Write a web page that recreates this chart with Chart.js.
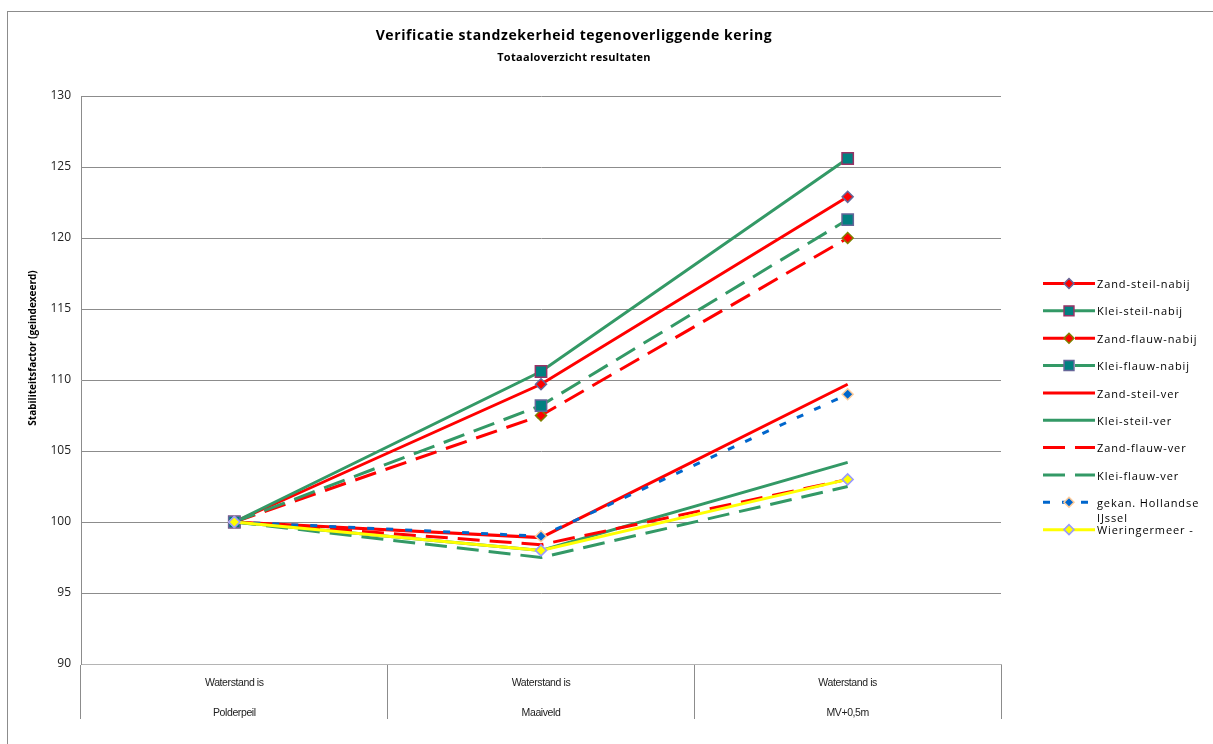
<!DOCTYPE html>
<html>
<head>
<meta charset="utf-8">
<title>Verificatie standzekerheid tegenoverliggende kering</title>
<script src="https://cdn.jsdelivr.net/npm/chart.js@4.4.1/dist/chart.umd.min.js"></script>
<style>
  html, body { margin: 0; padding: 0; background: #ffffff; overflow: hidden; }
  canvas { display: block; }
</style>
</head>
<body>
<canvas id="chart" width="1213" height="744"></canvas>
<script>
// ---- Texts ----
const chartTitle = 'Verificatie standzekerheid tegenoverliggende kering';
const chartSubtitle = 'Totaaloverzicht resultaten';
const yAxisTitle = 'Stabiliteitsfactor (geindexeerd)';

// ---- Categories (two-line labels) ----
const categories = [
  ['Waterstand is', 'Polderpeil'],
  ['Waterstand is', 'Maaiveld'],
  ['Waterstand is', 'MV+0,5m']
];

// ---- Value axis ----
const yMin = 90;
const yMax = 130;
const yStep = 5;

// ---- Series values (indexed stability factor) ----
const seriesNames = [
  'Zand-steil-nabij', 'Klei-steil-nabij', 'Zand-flauw-nabij', 'Klei-flauw-nabij',
  'Zand-steil-ver', 'Klei-steil-ver', 'Zand-flauw-ver', 'Klei-flauw-ver',
  'gekan. Hollandse IJssel', 'Wieringermeer -'
];
const zandSteilNabij  = [100, 109.7, 122.9];
const kleiSteilNabij  = [100, 110.6, 125.6];
const zandFlauwNabij  = [100, 107.5, 120.0];
const kleiFlauwNabij  = [100, 108.2, 121.3];
const zandSteilVer    = [100, 98.9, 109.7];
const kleiSteilVer    = [100, 98.0, 104.2];
const zandFlauwVer    = [100, 98.4, 103.0];
const kleiFlauwVer    = [100, 97.5, 102.5];
const hollandseIJssel = [100, 99.0, 109.0];
const wieringermeer   = [100, 98.0, 103.0];

const seriesValues = [
  zandSteilNabij, kleiSteilNabij, zandFlauwNabij, kleiFlauwNabij,
  zandSteilVer, kleiSteilVer, zandFlauwVer, kleiFlauwVer,
  hollandseIJssel, wieringermeer
];

// ---- Styling ----
const RED = '#ff0000', GREEN = '#339966', BLUE = '#0066cc', YELLOW = '#ffff00', TEAL = '#008080';
const SOLID = [], LONG_DASH = [22, 10], SHORT_DASH = [7, 12];
const GRID = '#8c8c8c';

const seriesStyles = [
  { color: RED,    dash: SOLID,      marker: { style: 'rectRot', radius: 5.5, fill: RED,    border: '#666699' } },
  { color: GREEN,  dash: SOLID,      marker: { style: 'rect',    radius: 8,   fill: TEAL,   border: '#993366' } },
  { color: RED,    dash: LONG_DASH,  marker: { style: 'rectRot', radius: 5.5, fill: RED,    border: '#808000' } },
  { color: GREEN,  dash: LONG_DASH,  marker: { style: 'rect',    radius: 8,   fill: TEAL,   border: '#666699' } },
  { color: RED,    dash: SOLID,      marker: null },
  { color: GREEN,  dash: SOLID,      marker: null },
  { color: RED,    dash: LONG_DASH,  marker: null },
  { color: GREEN,  dash: LONG_DASH,  marker: null },
  { color: BLUE,   dash: SHORT_DASH, marker: { style: 'rectRot', radius: 5.5, fill: BLUE,   border: '#ffcc99' } },
  { color: YELLOW, dash: SOLID,      marker: { style: 'rectRot', radius: 5.5, fill: YELLOW, border: '#9999ff' } }
];

const LINE_WIDTH = 3;
const FONT = '"Open Sans", "Liberation Sans", sans-serif';

const datasets = seriesNames.map((name, i) => {
  const s = seriesStyles[i];
  const m = s.marker;
  return {
    label: name,
    data: seriesValues[i],
    borderColor: s.color,
    backgroundColor: s.color,
    borderWidth: LINE_WIDTH,
    borderDash: s.dash,
    borderCapStyle: 'butt',
    borderJoinStyle: 'miter',
    tension: 0,
    fill: false,
    pointStyle: m ? m.style : 'circle',
    pointRadius: m ? m.radius : 0,
    pointHoverRadius: m ? m.radius : 0,
    pointBackgroundColor: m ? m.fill : s.color,
    pointBorderColor: m ? m.border : s.color,
    pointBorderWidth: 1.5,
    // later series are painted on top
    order: seriesNames.length - i
  };
});

// Category axis whose labels are drawn in a condensed face
class CondensedCategoryScale extends Chart.CategoryScale {
  drawLabels(chartArea) {
    const ctx = this.ctx;
    ctx.save();
    if ('fontStretch' in ctx) ctx.fontStretch = 'condensed';
    ctx.letterSpacing = '-0.4px';
    super.drawLabels(chartArea);
    ctx.restore();
  }
}
CondensedCategoryScale.id = 'condensedCategory';
CondensedCategoryScale.defaults = Chart.CategoryScale.defaults;
Chart.register(CondensedCategoryScale);

// Frame, titles and legend painted on the canvas
const decorations = {
  id: 'decorations',
  afterDraw(chart) {
    const ctx = chart.ctx;
    ctx.save();

    // outer frame (left and top edges visible)
    ctx.strokeStyle = '#8c8c8c';
    ctx.lineWidth = 1;
    ctx.strokeRect(7.5, 11.5, 1300, 800);

    // titles
    ctx.fillStyle = '#000000';
    ctx.textAlign = 'center';
    ctx.textBaseline = 'middle';
    ctx.letterSpacing = '0.6px';
    ctx.font = 'bold 14px ' + FONT;
    ctx.fillText(chartTitle, 574, 36);
    ctx.font = 'bold 11px ' + FONT;
    ctx.letterSpacing = '0.3px';
    ctx.fillText(chartSubtitle, 574, 58);

    // value axis title
    ctx.save();
    ctx.translate(33, 348);
    ctx.rotate(-Math.PI / 2);
    ctx.letterSpacing = '0px';
    ctx.font = 'bold 10px ' + FONT;
    ctx.fillText(yAxisTitle, 0, 0);
    ctx.restore();

    // legend
    const lx0 = 1043, lx1 = 1095, tx = 1097, top = 283.5, step = 27.35, maxW = 112;
    ctx.textAlign = 'left';
    ctx.font = '11px ' + FONT;
    ctx.letterSpacing = '0.9px';
    chart.data.datasets.forEach((ds, i) => {
      const y = top + i * step;
      ctx.save();
      ctx.strokeStyle = ds.borderColor;
      ctx.lineWidth = ds.borderWidth;
      ctx.lineCap = 'butt';
      ctx.setLineDash(ds.borderDash || []);
      ctx.beginPath();
      ctx.moveTo(lx0, y);
      ctx.lineTo(lx1, y);
      ctx.stroke();
      ctx.restore();
      if (ds.pointRadius > 0) {
        ctx.save();
        ctx.fillStyle = ds.pointBackgroundColor;
        ctx.strokeStyle = ds.pointBorderColor;
        ctx.lineWidth = ds.pointBorderWidth;
        ctx.setLineDash([]);
        Chart.helpers.drawPoint(ctx, {
          pointStyle: ds.pointStyle,
          radius: ds.pointStyle === 'rect' ? 7 : 5,
          borderWidth: ds.pointBorderWidth,
          rotation: 0
        }, (lx0 + lx1) / 2, y);
        ctx.restore();
      }
      // wrap long labels on word boundaries
      const words = ds.label.split(' ');
      const lines = [];
      let cur = '';
      words.forEach(w => {
        const test = cur ? cur + ' ' + w : w;
        if (cur && ctx.measureText(test).width > maxW) { lines.push(cur); cur = w; }
        else cur = test;
      });
      lines.push(cur);
      ctx.fillStyle = '#000000';
      lines.forEach((ln, k) => ctx.fillText(ln, tx, y + 1.5 + k * 15));
    });

    ctx.restore();
  }
};

Chart.defaults.font.family = FONT;
Chart.defaults.color = '#222222';

new Chart(document.getElementById('chart'), {
  type: 'line',
  data: { labels: categories, datasets },
  options: {
    responsive: false,
    animation: false,
    devicePixelRatio: 1,
    layout: { padding: { top: 96, right: 212, bottom: 0, left: 0 } },
    plugins: {
      legend: { display: false },
      title: { display: false },
      tooltip: { enabled: false }
    },
    events: [],
    scales: {
      x: {
        type: 'condensedCategory',
        offset: true,
        grid: {
          offset: true,
          drawOnChartArea: false,
          drawTicks: true,
          tickLength: 55,
          color: GRID,
          lineWidth: 1
        },
        border: { display: true, color: '#b4b4b4', width: 1 },
        ticks: {
          autoSkip: false,
          maxRotation: 0,
          minRotation: 0,
          padding: -51,
          color: '#222222',
          font: { family: '"Liberation Sans Narrow", "Liberation Sans", sans-serif', size: 10.5, lineHeight: '30px' }
        },
        afterFit(scale) { scale.height = 80; }
      },
      y: {
        min: yMin,
        max: yMax,
        ticks: {
          stepSize: yStep,
          padding: 10,
          color: '#222222',
          font: { size: 12 }
        },
        grid: { color: GRID, lineWidth: 1, drawTicks: false },
        border: { display: true, color: GRID, width: 1 },
        afterFit(scale) { scale.width = 81; }
      }
    }
  },
  plugins: [decorations]
});
</script>
</body>
</html>
